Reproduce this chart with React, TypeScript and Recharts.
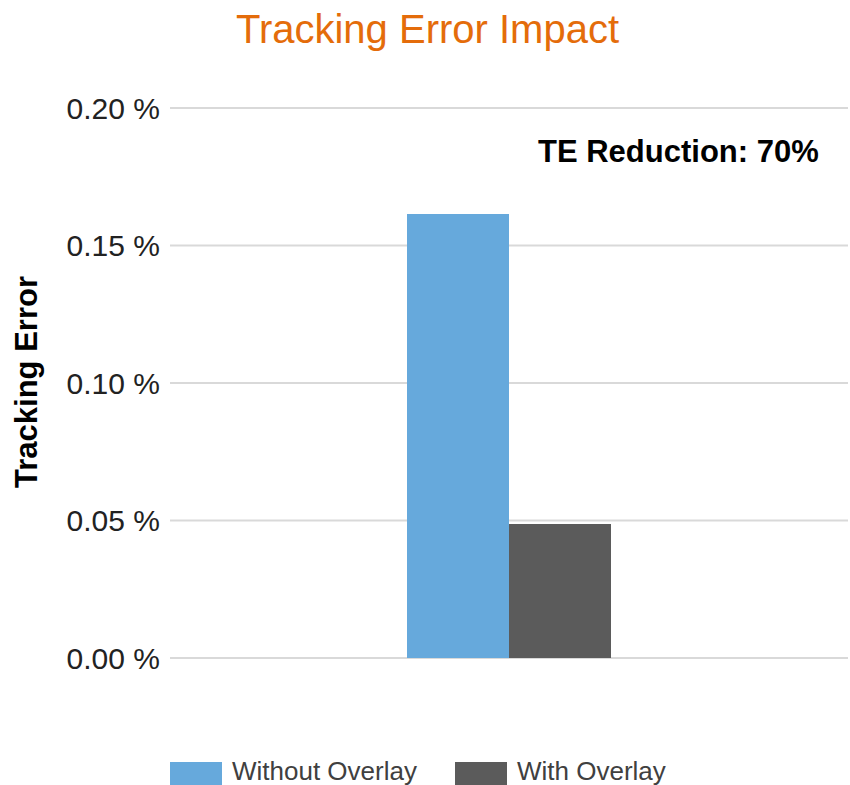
import { BarChart, Bar, XAxis, YAxis, CartesianGrid, Legend } from 'recharts';

const categories = [''];
const withoutOverlay = [0.1615];
const withOverlay = [0.0487];
const yTicks = [0, 0.05, 0.1, 0.15, 0.2];

const BLUE = '#66a9dc';
const GREY = '#5b5b5b';
const FONT = '"Liberation Sans", Arial, sans-serif';

const data = categories.map((c, i) => ({
  name: c,
  without: withoutOverlay[i],
  with: withOverlay[i],
}));

const legendItems = [
  { label: 'Without Overlay', color: BLUE },
  { label: 'With Overlay', color: GREY },
];

function renderLegend() {
  return (
    <div style={{ display: 'flex', height: 24, fontFamily: FONT, fontSize: 26, lineHeight: '24px', color: '#404040' }}>
      {legendItems.map((item, i) => (
        <div key={item.label} style={{ display: 'flex', alignItems: 'flex-start', width: i === 0 ? 285 : 'auto' }}>
          <div style={{ width: 52, height: 23, marginTop: 3, background: item.color, marginRight: 10 }} />
          <span>{item.label}</span>
        </div>
      ))}
    </div>
  );
}

function YLabel(props: any) {
  const vb = props.viewBox || { x: 0, y: 108, width: 170, height: 550 };
  const cx = 26;
  const cy = vb.y + vb.height / 2 - 1;
  return (
    <text
      x={cx}
      y={cy}
      transform={`rotate(-90 ${cx} ${cy})`}
      textAnchor="middle"
      dominantBaseline="central"
      fontFamily={FONT}
      fontSize={31}
      fontWeight="bold"
      fill="#000"
    >
      Tracking Error
    </text>
  );
}

export default function App() {
  return (
    <div style={{ position: 'absolute', left: 0, top: 0, width: 850, height: 785, background: '#fff', overflow: 'hidden' }}>
      <div
        style={{
          position: 'absolute',
          left: 0,
          top: 9,
          width: 855,
          textAlign: 'center',
          fontFamily: FONT,
          fontSize: 40,
          lineHeight: 1,
          color: '#e46c0a',
        }}
      >
        Tracking Error Impact
      </div>
      <div
        style={{
          position: 'absolute',
          left: 538,
          top: 136,
          fontFamily: FONT,
          fontSize: 31,
          fontWeight: 'bold',
          lineHeight: 1,
          color: '#000',
          zIndex: 2,
        }}
      >
        TE Reduction: 70%
      </div>
      <BarChart
        width={850}
        height={785}
        data={data}
        barSize={102}
        barGap={0}
        margin={{ top: 108, right: 2, left: 0, bottom: 103 }}
      >
        <CartesianGrid vertical={false} stroke="#d9d9d9" strokeWidth={2} />
        <XAxis dataKey="name" hide />
        <YAxis
          width={170}
          domain={[0, 0.2]}
          ticks={yTicks}
          axisLine={false}
          tickLine={false}
          tickSize={0}
          tickMargin={10}
          tickFormatter={(v: number) => `${v.toFixed(2)} %`}
          tick={{ fontFamily: FONT, fontSize: 30, fill: '#222' }}
          label={<YLabel />}
        />
        <Legend
          verticalAlign="bottom"
          content={renderLegend}
          wrapperStyle={{ left: 170, top: 759, bottom: 'auto', width: 'auto' }}
        />
        <Bar dataKey="without" name="Without Overlay" fill={BLUE} isAnimationActive={false} />
        <Bar dataKey="with" name="With Overlay" fill={GREY} isAnimationActive={false} />
      </BarChart>
    </div>
  );
}
